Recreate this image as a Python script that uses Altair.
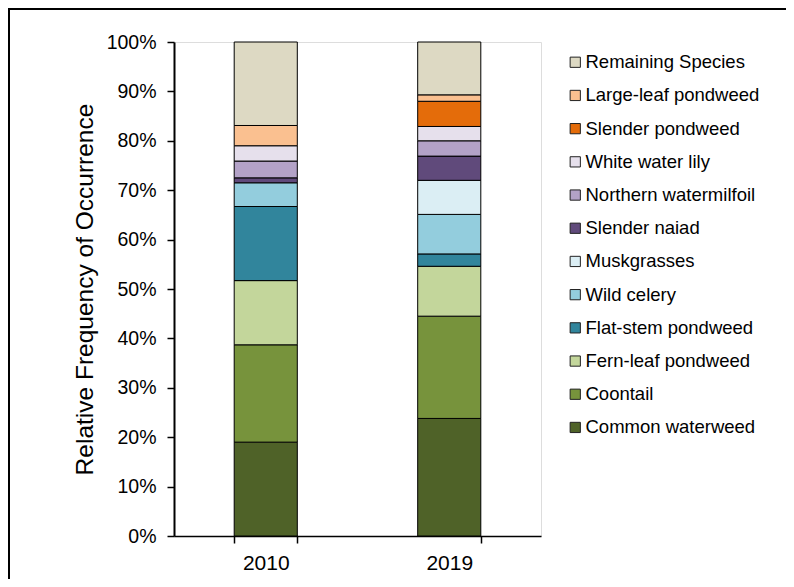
import altair as alt
import pandas as pd

species = [
    "Common waterweed", "Coontail", "Fern-leaf pondweed", "Flat-stem pondweed",
    "Wild celery", "Muskgrasses", "Slender naiad", "Northern watermilfoil",
    "White water lily", "Slender pondweed", "Large-leaf pondweed", "Remaining Species",
]
colors = [
    "#4F6228", "#77933C", "#C3D69B", "#31859C",
    "#93CDDD", "#DBEEF4", "#604A7B", "#B3A2C7",
    "#E6E0EC", "#E46C0A", "#FAC090", "#DDD9C3",
]
years = ["2010", "2019"]
values_2010 = [19.0, 19.7, 13.0, 15.0, 4.8, 0.0, 1.0, 3.4, 3.1, 0.0, 4.1, 16.9]
values_2019 = [23.8, 20.7, 10.1, 2.5, 8.0, 6.9, 4.9, 3.1, 2.9, 5.1, 1.3, 10.7]

rows = []
for yr, vals in zip(years, [values_2010, values_2019]):
    for i, (sp, v) in enumerate(zip(species, vals)):
        if v > 0:
            rows.append({"Year": yr, "Species": sp, "idx": i, "value": v / 100.0})
df = pd.DataFrame(rows)

FONT = "Liberation Sans"

bars = alt.Chart(df).mark_bar(stroke="black", strokeWidth=1).encode(
    x=alt.X("Year:N", title=None,
            scale=alt.Scale(paddingInner=0.656, paddingOuter=0.328),
            axis=alt.Axis(labelAngle=0, labelFontSize=21, labelFont=FONT, labelColor="black",
                          tickBand="extent", tickSize=7, tickColor="black", tickWidth=1.5,
                          domainColor="black", domainWidth=1.5, labelPadding=9)),
    y=alt.Y("value:Q", stack="zero", title="Relative Frequency of Occurrence",
            scale=alt.Scale(domain=[0, 1]),
            axis=alt.Axis(format=".0%", values=[i / 10 for i in range(11)], grid=False,
                          labelFontSize=19.5, labelFont=FONT, labelColor="black",
                          tickSize=7, tickColor="black", tickWidth=1.5, labelPadding=11,
                          domainColor="black", domainWidth=2,
                          titleFontSize=24.5, titleFont=FONT, titleFontWeight="normal",
                          titleColor="black", titleX=-82, titleBaseline="alphabetic")),
    color=alt.Color("Species:N",
                    scale=alt.Scale(domain=species[::-1], range=colors[::-1]),
                    legend=alt.Legend(title=None, orient="none", legendX=392, legendY=11,
                                      symbolType="square", symbolSize=105,
                                      symbolStrokeColor="#222222", symbolStrokeWidth=1,
                                      labelFontSize=18.5, labelFont=FONT, labelColor="black",
                                      rowPadding=14.2, labelOffset=1, padding=0,
                                      labelLimit=400)),
    order=alt.Order("idx:Q", sort="ascending"),
)

frame_df = pd.DataFrame({"a": [0]})
frame_left = alt.Chart(frame_df).mark_rule(color="black", strokeWidth=2).encode(
    x=alt.value(-165), y=alt.value(-40), y2=alt.value(700))
frame_top = alt.Chart(frame_df).mark_rule(color="black", strokeWidth=2).encode(
    x=alt.value(-170), x2=alt.value(800), y=alt.value(-33))

chart = alt.layer(bars, frame_left, frame_top).properties(
    width=367, height=494,
    autosize=alt.AutoSizeParams(type="none"),
    padding={"left": 166, "top": 34, "right": 245, "bottom": 43},
).configure_view(stroke="black", strokeWidth=1.5).configure(background="white")

chart.save("out.html", embed_options={"renderer": "svg", "actions": False})
